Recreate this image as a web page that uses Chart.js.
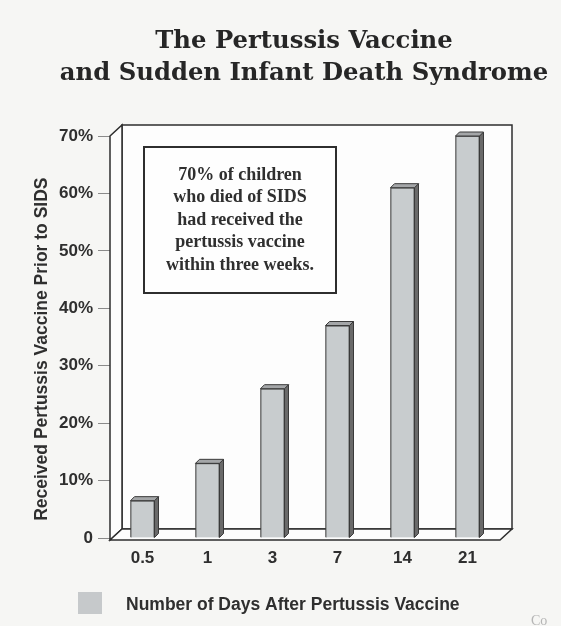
<!DOCTYPE html>
<html>
<head>
<meta charset="utf-8">
<script src="https://cdn.jsdelivr.net/npm/chart.js@4"></script>
<style>
  html, body { margin: 0; padding: 0; background: #f6f6f4; }
  #wrap { width: 561px; height: 626px; }
</style>
</head>
<body>
<div id="wrap"><canvas id="sidsChart" width="561" height="626"></canvas></div>
<script>
const days = ['0.5', '1', '3', '7', '14', '21'];
const percentReceived = [6.5, 13, 26, 37, 61, 70];
const yTickLabels = ['0', '10%', '20%', '30%', '40%', '50%', '60%', '70%'];
const titleLines = ['The Pertussis Vaccine', 'and Sudden Infant Death Syndrome'];
const noteLines = ['70% of children', 'who died of SIDS', 'had received the', 'pertussis vaccine', 'within three weeks.'];
const legendText = 'Number of Days After Pertussis Vaccine';

// depth of the 3D box and of the bars
const DEPTH = { x: 12, y: 11 };
const BAR_DEPTH = { x: 4, y: 4 };

const paperBg = {
  id: 'paperBg',
  beforeDraw(chart) {
    const c = chart.ctx;
    c.save();
    c.fillStyle = '#f6f6f4';
    c.fillRect(0, 0, chart.width, chart.height);
    c.restore();
  }
};

// walls and floor of the box
const box3d = {
  id: 'box3d',
  beforeDatasetsDraw(chart) {
    const c = chart.ctx;
    const a = chart.chartArea;
    const l = a.left, r = a.right, t = a.top, b = a.bottom + 2;
    const dx = DEPTH.x, dy = DEPTH.y;
    c.save();
    c.lineWidth = 1.5;
    c.strokeStyle = '#2e2e2e';
    c.fillStyle = '#fdfdfd';
    // back wall
    c.beginPath();
    c.rect(l + dx, t - dy, r - l, b - t);
    c.fill(); c.stroke();
    // left wall
    c.beginPath();
    c.moveTo(l, t); c.lineTo(l + dx, t - dy); c.lineTo(l + dx, b - dy); c.lineTo(l, b);
    c.closePath();
    c.fill(); c.stroke();
    // floor
    c.beginPath();
    c.moveTo(l, b); c.lineTo(l + dx, b - dy); c.lineTo(r + dx, b - dy); c.lineTo(r, b);
    c.closePath();
    c.fill(); c.stroke();
    c.restore();
  },
  afterDatasetsDraw(chart) {
    const c = chart.ctx;
    const meta = chart.getDatasetMeta(0);
    c.save();
    c.lineWidth = 1;
    c.strokeStyle = '#3a3a3a';
    meta.data.forEach(bar => {
      const half = bar.width / 2;
      const x0 = bar.x - half, x1 = bar.x + half;
      const y = bar.y, base = bar.base;
      // side
      c.fillStyle = '#6a6a6a';
      c.beginPath();
      c.moveTo(x1, y); c.lineTo(x1 + BAR_DEPTH.x, y - BAR_DEPTH.y);
      c.lineTo(x1 + BAR_DEPTH.x, base - BAR_DEPTH.y); c.lineTo(x1, base);
      c.closePath(); c.fill(); c.stroke();
      // top
      c.fillStyle = '#a4a6a8';
      c.beginPath();
      c.moveTo(x0, y); c.lineTo(x0 + BAR_DEPTH.x, y - BAR_DEPTH.y);
      c.lineTo(x1 + BAR_DEPTH.x, y - BAR_DEPTH.y); c.lineTo(x1, y);
      c.closePath(); c.fill(); c.stroke();
    });
    c.restore();
  }
};

// title (centred over the plot), text box, legend and stray page text
const extras = {
  id: 'extras',
  afterDraw(chart) {
    const c = chart.ctx;
    const a = chart.chartArea;
    c.save();
    c.fillStyle = '#262626';
    c.font = 'bold 24.3px "DejaVu Serif", serif';
    c.textAlign = 'center';
    c.textBaseline = 'alphabetic';
    const midX = (a.left + a.right) / 2 - 1;
    c.fillText(titleLines[0], midX, 48);
    c.fillText(titleLines[1], midX, 80);

    const bx = a.left + 34, by = a.top + 11, bw = 192, bh = 146;
    c.fillStyle = '#fefefe';
    c.strokeStyle = '#2e2e2e';
    c.lineWidth = 2;
    c.fillRect(bx, by, bw, bh);
    c.strokeRect(bx, by, bw, bh);
    c.fillStyle = '#2f2f2f';
    c.font = 'bold 18px "Liberation Serif", "Times New Roman", serif';
    c.textBaseline = 'middle';
    noteLines.forEach((line, i) => {
      c.fillText(line, bx + bw / 2, by + 28 + i * 22.5);
    });

    // legend
    c.fillStyle = '#c6c9cb';
    c.fillRect(78, 592, 24, 22);
    c.fillStyle = '#2f2f2f';
    c.font = 'bold 17.5px "Liberation Sans", Arial, sans-serif';
    c.textAlign = 'left';
    c.fillText(legendText, 126, 605);

    c.fillStyle = '#b5b5b5';
    c.font = '14px "Liberation Serif", serif';
    c.fillText('Co', 531, 621);
    c.restore();
  }
};

document.addEventListener('DOMContentLoaded', function() {
  const ctx = document.getElementById('sidsChart');

  new Chart(ctx, {
    type: 'bar',
    data: {
      labels: days,
      datasets: [{
        label: legendText,
        data: percentReceived,
        backgroundColor: '#c8ccce',
        borderColor: '#3e3e3e',
        borderWidth: 1.2,
        barThickness: 24
      }]
    },
    options: {
      responsive: false,
      animation: false,
      layout: {
        padding: { top: 136, right: 61, bottom: 55, left: 0 }
      },
      plugins: {
        legend: { display: false },
        tooltip: { enabled: false },
        title: { display: false }
      },
      scales: {
        x: {
          grid: { display: false },
          border: { display: false },
          ticks: {
            color: '#2f2f2f',
            padding: 2,
            font: { family: '"Liberation Sans", Arial, sans-serif', size: 17, weight: 'bold' }
          },
          afterFit(scale) { scale.height = 33; }
        },
        y: {
          min: 0,
          max: 70,
          border: { display: false },
          grid: {
            drawOnChartArea: false,
            drawTicks: true,
            tickLength: 12,
            color: '#8a8a8a'
          },
          ticks: {
            stepSize: 10,
            padding: 5,
            color: '#2f2f2f',
            font: { family: '"Liberation Sans", Arial, sans-serif', size: 17, weight: 'bold' },
            callback: function(value, index) { return yTickLabels[index]; }
          },
          title: {
            display: true,
            // trailing spaces nudge the centred text down to where the original sits
            text: 'Received Pertussis Vaccine Prior to SIDS     ',
            color: '#2f2f2f',
            font: { family: '"Liberation Sans", Arial, sans-serif', size: 17.5, weight: 'bold', lineHeight: 1.2 },
            padding: { top: 32, bottom: 0 }
          },
          afterFit(scale) { scale.width = 110; }
        }
      }
    },
    plugins: [paperBg, box3d, extras]
  });
});
</script>
</body>
</html>
